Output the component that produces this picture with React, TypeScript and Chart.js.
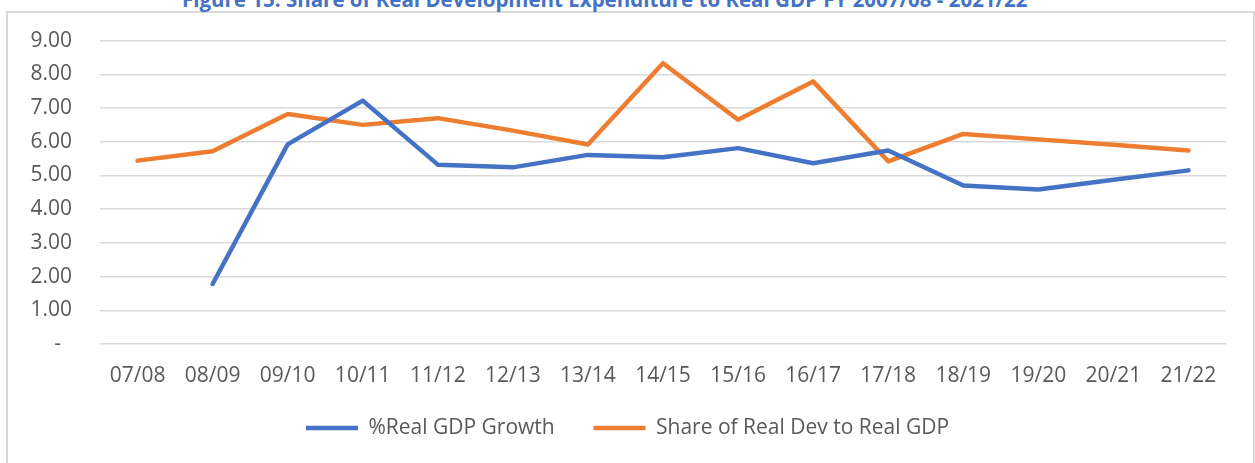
import React, { useEffect, useRef } from "react";
import { Chart, registerables } from "chart.js";

Chart.register(...registerables);

const categories = ["07/08", "08/09", "09/10", "10/11", "11/12", "12/13", "13/14", "14/15", "15/16", "16/17", "17/18", "18/19", "19/20", "20/21", "21/22"];
const gdpGrowth: (number | null)[] = [null, 1.78, 5.92, 7.22, 5.32, 5.24, 5.61, 5.54, 5.81, 5.36, 5.74, 4.70, 4.58, 4.87, 5.15];
const devShare: number[] = [5.44, 5.72, 6.82, 6.50, 6.70, 6.33, 5.92, 8.33, 6.65, 7.79, 5.42, 6.23, 6.07, 5.91, 5.74];
const seriesNames = ["%Real GDP Growth", "Share of Real Dev to Real GDP"];
const titleText = "Figure 15: Share of Real Development Expenditure to Real GDP FY 2007/08 - 2021/22";
const yMin = 0;
const yMax = 9;
const yStep = 1;

const FONT = "'Open Sans', 'Noto Sans', sans-serif";

export default function App() {
  const canvasRef = useRef<HTMLCanvasElement | null>(null);

  useEffect(() => {
    const canvas = canvasRef.current;
    if (!canvas) return;
    const chart = new Chart(canvas, {
      type: "line",
      data: {
        labels: categories,
        datasets: [
          {
            // trailing spaces widen the gap between the two legend entries
            label: seriesNames[0] + "   ",
            data: gdpGrowth,
            borderColor: "#4472C4",
            backgroundColor: "#4472C4",
            borderWidth: 4.5,
            borderCapStyle: "round",
            borderJoinStyle: "round",
            pointRadius: 0,
            pointHoverRadius: 0,
            tension: 0,
            spanGaps: false,
          },
          {
            label: seriesNames[1],
            data: devShare,
            borderColor: "#ED7D31",
            backgroundColor: "#ED7D31",
            borderWidth: 4.5,
            borderCapStyle: "round",
            borderJoinStyle: "round",
            pointRadius: 0,
            pointHoverRadius: 0,
            tension: 0,
          },
        ],
      },
      options: {
        responsive: false,
        animation: false,
        devicePixelRatio: 1,
        layout: { padding: { left: 29, right: 29, top: 40, bottom: 14.5 } },
        plugins: {
          title: { display: false },
          tooltip: { enabled: false },
          legend: {
            display: true,
            position: "bottom",
            labels: {
              usePointStyle: true,
              pointStyle: "line",
              pointStyleWidth: 52,
              padding: 22.5,
              color: "#595959",
              font: { family: FONT, size: 21 },
            },
          },
        },
        scales: {
          x: {
            offset: true,
            grid: { display: false, drawTicks: false },
            border: { display: false },
            ticks: {
              color: "#595959",
              font: { family: FONT, size: 21 },
              padding: 19,
              maxRotation: 0,
              autoSkip: false,
            },
            afterFit: (s: any) => {
              s.height = 51;
            },
          },
          y: {
            min: yMin,
            max: yMax,
            grid: { color: "#d9d9d9", lineWidth: 1.5, drawTicks: false },
            border: { display: false },
            ticks: {
              stepSize: yStep,
              color: "#595959",
              font: { family: FONT, size: 21 },
              padding: 28,
              callback: (v: any) => (Number(v) === 0 ? "-  " : Number(v).toFixed(2)),
            },
            afterFit: (s: any) => {
              s.width = 71;
            },
          },
        },
      },
    });
    return () => chart.destroy();
  }, []);

  return (
    <div
      style={{
        position: "fixed",
        left: 0,
        top: 0,
        width: 1255,
        height: 463,
        overflow: "hidden",
        background: "#ffffff",
      }}
    >
      <div
        style={{
          position: "absolute",
          left: 6,
          top: 11,
          width: 1249,
          height: 520,
          border: "2px solid #d9d9d9",
          boxSizing: "border-box",
        }}
      />
      <div
        style={{
          position: "absolute",
          left: 182,
          top: -11,
          fontFamily: FONT,
          fontWeight: 700,
          fontSize: 20.5,
          lineHeight: "20.5px",
          color: "#4472C4",
          whiteSpace: "nowrap",
        }}
      >
        {titleText}
      </div>
      <canvas
        ref={canvasRef}
        width={1255}
        height={463}
        style={{ position: "absolute", left: 0, top: 0, width: 1255, height: 463 }}
      />
    </div>
  );
}
